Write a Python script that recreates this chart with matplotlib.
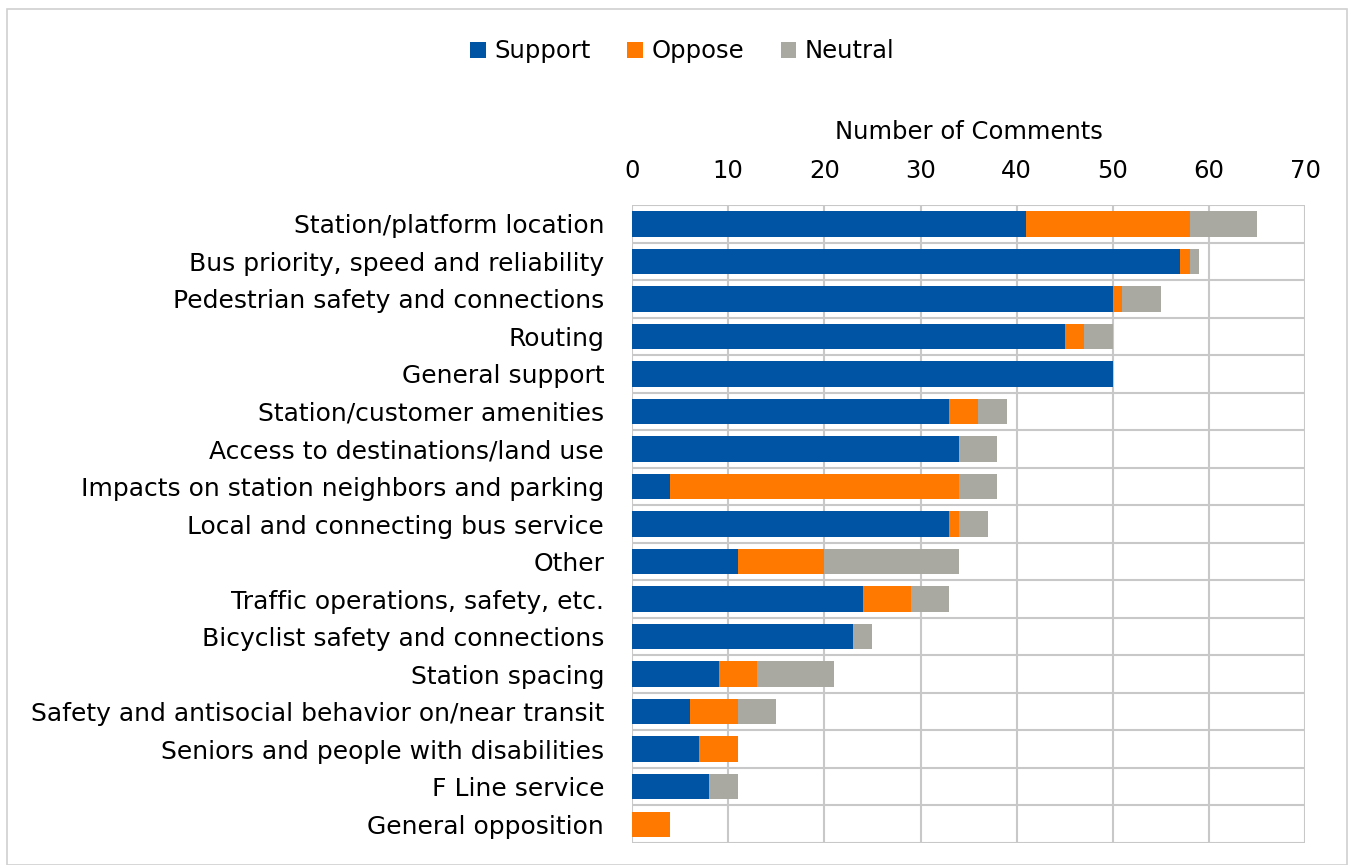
import matplotlib.pyplot as plt
import numpy as np
from matplotlib.patches import Rectangle

categories = [
    "Station/platform location",
    "Bus priority, speed and reliability",
    "Pedestrian safety and connections",
    "Routing",
    "General support",
    "Station/customer amenities",
    "Access to destinations/land use",
    "Impacts on station neighbors and parking",
    "Local and connecting bus service",
    "Other",
    "Traffic operations, safety, etc.",
    "Bicyclist safety and connections",
    "Station spacing",
    "Safety and antisocial behavior on/near transit",
    "Seniors and people with disabilities",
    "F Line service",
    "General opposition",
]
support = [41, 57, 50, 45, 50, 33, 34, 4, 33, 11, 24, 23, 9, 6, 7, 8, 0]
oppose = [17, 1, 1, 2, 0, 3, 0, 30, 1, 9, 5, 0, 4, 5, 4, 0, 4]
neutral = [7, 1, 4, 3, 0, 3, 4, 4, 3, 14, 4, 2, 8, 4, 0, 3, 0]

plt.rcParams["font.family"] = ["DejaVu Sans"]
fs = 17.5

fig = plt.figure(figsize=(13.51, 8.65), dpi=100)
ax = fig.add_axes([0.4678, 0.0254, 0.4983, 0.7376])

y = np.arange(len(categories))
s = np.array(support)
o = np.array(oppose)
n = np.array(neutral)
h = 0.68
ax.barh(y, s, height=h, color="#0054A4", label="Support", zorder=3)
ax.barh(y, o, left=s, height=h, color="#FF7800", label="Oppose", zorder=3)
ax.barh(y, n, left=s + o, height=h, color="#A9A9A1", label="Neutral", zorder=3)

ax.set_xlim(0, 70)
ax.set_ylim(len(categories) - 0.5, -0.5)
ax.set_xticks(range(0, 71, 10))
ax.set_yticks(y)
ax.set_yticklabels(categories)
ax.set_yticks(np.arange(-0.5, len(categories), 1), minor=True)
ax.xaxis.tick_top()
ax.xaxis.set_label_position("top")
ax.set_xlabel("Number of Comments", fontsize=fs, labelpad=14)
ax.tick_params(axis="x", labelsize=fs, length=0, pad=16)
ax.tick_params(axis="y", which="major", labelsize=18, length=0, pad=20)
ax.tick_params(axis="y", which="minor", length=0)
ax.grid(axis="x", which="major", color="#C8C8C8", linewidth=1.5, zorder=0)
ax.grid(axis="y", which="minor", color="#C8C8C8", linewidth=1.5, zorder=0)
for sp in ax.spines.values():
    sp.set_visible(False)

fig.legend(loc="upper center", bbox_to_anchor=(0.505, 0.98), ncol=3, frameon=False,
           fontsize=fs, handlelength=0.65, handleheight=0.65, handletextpad=0.35,
           columnspacing=1.5)

fig.patches.append(Rectangle((0.005, 0.0), 0.992, 0.99, transform=fig.transFigure,
                             fill=False, edgecolor="#D0D0D0", linewidth=1.2))

fig.savefig("out.png", dpi=100)
